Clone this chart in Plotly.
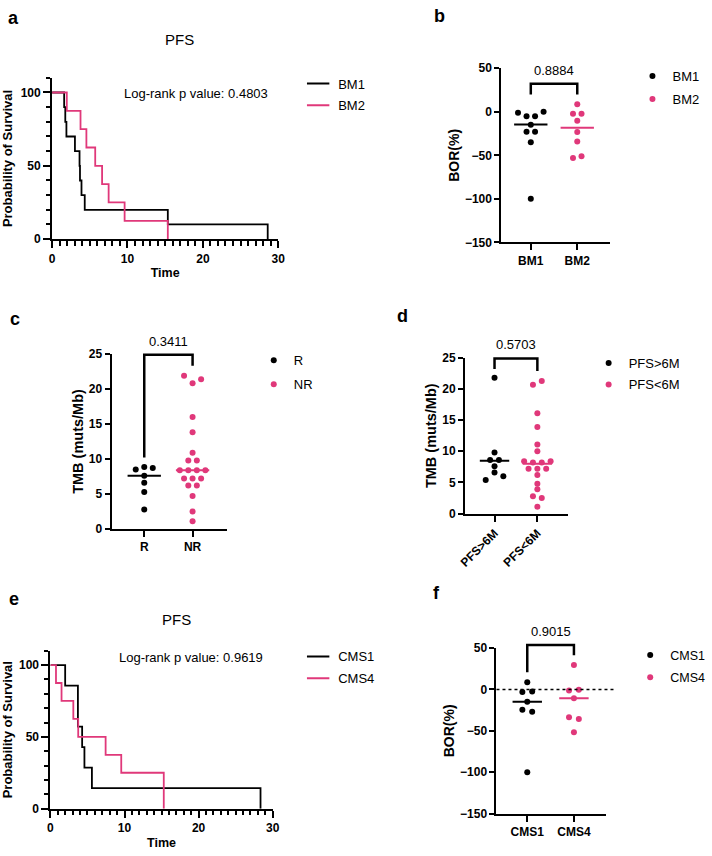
import plotly.graph_objects as go

W, H = 712, 856
FONT = "Liberation Sans, Arial, sans-serif"
PINK = "#E0387A"
BLACK = "#000000"

# ---------------- DATA ----------------
# Panel a: Kaplan-Meier PFS by BM group
bm1_time = [0, 1.6, 1.75, 1.9, 3.03, 3.64, 3.7, 3.9, 4.33, 15.35, 28.6]
bm1_surv = [100, 90, 80, 70, 60, 50, 40, 30, 20, 10, 0]
bm2_time = [0, 1.95, 3.77, 4.55, 5.72, 6.63, 7.5, 9.62, 15.35]
bm2_surv = [100, 87.5, 75, 62.5, 50, 37.5, 25, 12.5, 0]
a_pvalue = "Log-rank p value: 0.4803"

# Panel b: BOR by BM group
b_groups = ["BM1", "BM2"]
b_bm1 = [-1, -5, -5, 0, -15, -23, -23, -35, -100]
b_bm2 = [8.6, -2.3, -2.3, -10.2, -23.3, -34.2, -53, -51]
b_medians = [-14.7, -18.4]
b_bracket = [20, 32.3, 20]
b_pvalue = "0.8884"

# Panel c: TMB by response
c_groups = ["R", "NR"]
c_r = [8.5, 8.85, 8.7, 7.6, 6.6, 5.3, 2.8]
c_nr = [21.9, 20.8, 21.4, 16.0, 13.8, 10.9, 9.8, 9.8, 8.4, 8.4, 8.4, 8.4,
        7.2, 7.2, 7.2, 6.2, 6.2, 4.7, 2.5, 1.1]
c_medians = [7.6, 8.4]
c_bracket = [10.2, 24.9, 23.3]
c_pvalue = "0.3411"

# Panel d: TMB by PFS
d_groups = ["PFS>6M", "PFS<6M"]
d_long = [21.8, 9.8, 8.6, 8.6, 7.6, 5.4, 6.6, 6.0]
d_short = [20.7, 21.3, 16.1, 13.9, 11.1, 10.0, 8.4, 8.2, 8.2, 8.4, 7.2, 7.2, 7.2,
           6.2, 4.8, 3.9, 2.8, 2.5, 1.1]
d_medians = [8.5, 8.0]
d_bracket = [23.2, 24.9, 22.9]
d_pvalue = "0.5703"

# Panel e: Kaplan-Meier PFS by CMS
cms1_time = [0, 1.99, 3.71, 3.71, 4.28, 4.59, 5.6, 28.36]
cms1_surv = [100, 85.7, 71.4, 57.1, 42.9, 28.6, 14.3, 0]
cms4_time = [0, 0.75, 1.5, 3.09, 3.75, 7.45, 9.56, 15.3]
cms4_surv = [100, 87.5, 75, 62.5, 50, 37.5, 25, 0]
e_pvalue = "Log-rank p value: 0.9619"

# Panel f: BOR by CMS
f_groups = ["CMS1", "CMS4"]
f_cms1 = [8.7, -3.2, -2.4, -15, -24.6, -27, -100]
f_cms4 = [29.4, -1.2, -0.4, -10.7, -33.7, -35.7, -51.6]
f_medians = [-15, -10.7]
f_bracket = [20.6, 53.6, 41.3]
f_pvalue = "0.9015"

# KM axis ticks
km_x_major = [0, 10, 20, 30]
km_y_major = [0, 50, 100]


# ---------------- helpers ----------------
def px(x):
    return x / W


def py(y):
    return 1 - y / H


def swarm(vals, ppu, step_units, diam_px=5.0):
    """Group near-equal values into rows and spread each row symmetrically."""
    order = sorted(range(len(vals)), key=lambda i: -vals[i])
    clusters, cur = [], [order[0]]
    for a, b in zip(order[:-1], order[1:]):
        if (vals[a] - vals[b]) * ppu < diam_px:
            cur.append(b)
        else:
            clusters.append(cur)
            cur = [b]
    clusters.append(cur)
    offs = [0.0] * len(vals)
    for cl in clusters:
        cl = sorted(cl)
        n = len(cl)
        for k, i in enumerate(cl):
            offs[i] = (k - (n - 1) / 2) * step_units
    return offs


fig = go.Figure()

# panel geometry (pixel boxes) -> domains
panels = {
    "a": dict(x=[46, 276.7], y=[72, 236]),
    "b": dict(x=[504.3, 615], y=[62.3, 239.3]),
    "c": dict(x=[106.7, 224], y=[352.7, 530.7]),
    "d": dict(x=[467.3, 572.7], y=[356.7, 515]),
    "e": dict(x=[44.3, 271], y=[654.4, 815]),
    "f": dict(x=[499.3, 610.7], y=[651.7, 820]),
}
axid = {"a": "", "b": "2", "c": "3", "d": "4", "e": "5", "f": "6"}
overlay_id = {"b": "7", "c": "8", "d": "9", "f": "10"}

tickfont = dict(family=FONT, size=12, color=BLACK, weight="bold")
common_axis = dict(showline=True, linewidth=2, linecolor=BLACK, showgrid=False,
                   zeroline=False, ticks="outside", tickwidth=2, tickcolor=BLACK,
                   tickfont=tickfont)


def dom(p):
    g = panels[p]
    return [px(g["x"][0]), px(g["x"][1])], [py(g["y"][1]), py(g["y"][0])]


# ---------- KM panels ----------
def km_panel(p, t1, s1, t2, s2, names, legend, ptext, ptext_xy, title_xy):
    ax = axid[p]
    xd, yd = dom(p)
    for t, s, c in [(t1, s1, BLACK), (t2, s2, PINK)]:
        fig.add_trace(go.Scatter(x=t, y=s, mode="lines", line=dict(color=c, width=1.8, shape="hv"),
                                 xaxis="x" + ax, yaxis="y" + ax, showlegend=False,
                                 hoverinfo="skip"))
    for c, n in [(BLACK, names[0]), (PINK, names[1])]:
        fig.add_trace(go.Scatter(x=[None], y=[None], mode="markers", name=n, legend=legend,
                                 legendgroup=n,
                                 marker=dict(symbol="line-ew", size=16, color=c,
                                             line=dict(color=c, width=2)),
                                 xaxis="x" + ax, yaxis="y" + ax))
    fig.layout["xaxis" + ax] = dict(common_axis, domain=xd, range=[0, 30], tickvals=km_x_major,
                                    ticklen=7, anchor="y" + ax,
                                    minor=dict(tickvals=list(range(0, 31)), ticklen=4.5,
                                               tickwidth=1.5, ticks="outside", tickcolor=BLACK),
                                    title=dict(text="Time", font=dict(family=FONT, size=12.5,
                                                                      weight="bold", color=BLACK),
                                               standoff=4))
    fig.layout["yaxis" + ax] = dict(common_axis, domain=yd, range=[0, 110], tickvals=km_y_major,
                                    ticklen=7, anchor="x" + ax,
                                    minor=dict(tickvals=list(range(0, 111, 10)), ticklen=4.5,
                                               tickwidth=1.5, ticks="outside", tickcolor=BLACK),
                                    title=dict(text="Probability of Survival",
                                               font=dict(family=FONT, size=13, weight="bold",
                                                         color=BLACK), standoff=5))
    fig.add_annotation(x=px(ptext_xy[0]), y=py(ptext_xy[1]), xref="paper", yref="paper",
                       text=ptext, showarrow=False, xanchor="center", yanchor="middle",
                       font=dict(family=FONT, size=13, color=BLACK))
    fig.add_annotation(x=px(title_xy[0]), y=py(title_xy[1]), xref="paper", yref="paper",
                       text="PFS", showarrow=False, xanchor="center", yanchor="middle",
                       font=dict(family=FONT, size=15, color=BLACK))


km_panel("a", bm1_time, bm1_surv, bm2_time, bm2_surv, ["BM1", "BM2"], "legend",
         a_pvalue, (193, 88), (176, 33))
km_panel("e", cms1_time, cms1_surv, cms4_time, cms4_surv, ["CMS1", "CMS4"], "legend5",
         e_pvalue, (188, 661), (173, 623))


# ---------- dot panels ----------
def dot_panel(p, groups, v1, v2, medians, bracket, ptext, yrange, ytick, ytitle, title_size,
              legend, step_px, half_px, tickangle=0, zero_line=False):
    ax = axid[p]
    ov = overlay_id[p]
    xd, yd = dom(p)
    g = panels[p]
    ppu = (g["y"][1] - g["y"][0]) / (yrange[1] - yrange[0])
    width_px = g["x"][1] - g["x"][0]
    spacing_px = {"b": 47.4, "c": 49.3, "d": 43.7, "f": 47.6}[p]
    left_px = {"b": 30.0, "c": 33.3, "d": 30.0, "f": 31.4}[p]
    xr = [-left_px / spacing_px, (width_px - left_px) / spacing_px]
    step_u = step_px / spacing_px
    half_u = half_px / spacing_px
    for k, (vals, c, n) in enumerate([(v1, BLACK, groups[0]), (v2, PINK, groups[1])]):
        offs = swarm(vals, ppu, step_u)
        fig.add_trace(go.Scatter(x=[k + o for o in offs], y=vals, mode="markers", name=n,
                                 legend=legend, legendgroup=n,
                                 marker=dict(color=c, size=6), cliponaxis=False,
                                 xaxis="x" + ax, yaxis="y" + ax))
        fig.add_trace(go.Scatter(x=[k - half_u, k + half_u], y=[medians[k], medians[k]],
                                 mode="lines", line=dict(color=c, width=2), showlegend=False,
                                 xaxis="x" + ax, yaxis="y" + ax, hoverinfo="skip"))
    # bracket lives on an invisible overlay subplot with the same scale but extra headroom
    extra_px = 30
    fig.add_trace(go.Scatter(x=[0, 0, 1, 1], y=[bracket[0], bracket[1], bracket[1], bracket[2]],
                             mode="lines", line=dict(color=BLACK, width=2.5), showlegend=False,
                             xaxis="x" + ov, yaxis="y" + ov, hoverinfo="skip"))
    fig.add_annotation(x=0.5, y=bracket[1], xref="x" + ov, yref="y" + ov, text=ptext,
                       showarrow=False, yanchor="bottom", yshift=4,
                       font=dict(family=FONT, size=13, color=BLACK))
    fig.layout["xaxis" + ov] = dict(domain=xd, range=xr, visible=False, anchor="y" + ov,
                                    fixedrange=True)
    fig.layout["yaxis" + ov] = dict(domain=[yd[0], yd[1] + extra_px / H],
                                    range=[yrange[0], yrange[1] + extra_px / ppu],
                                    visible=False, anchor="x" + ov, fixedrange=True)
    if zero_line:
        fig.add_shape(type="line", xref="x" + ax + " domain", x0=0, x1=1.08, yref="y" + ax,
                      y0=0, y1=0, line=dict(color=BLACK, width=1.5, dash="dot"))
    fig.layout["xaxis" + ax] = dict(common_axis, domain=xd, range=xr, tickvals=[0, 1],
                                    ticktext=groups, ticklen=6, anchor="y" + ax,
                                    tickangle=tickangle)
    fig.layout["yaxis" + ax] = dict(common_axis, domain=yd, range=yrange, tickvals=ytick,
                                    ticklen=5, anchor="x" + ax,
                                    title=dict(text=ytitle, font=dict(family=FONT, size=title_size,
                                                                      weight="bold", color=BLACK),
                                               standoff=2))


dot_panel("b", b_groups, b_bm1, b_bm2, b_medians, b_bracket, b_pvalue, [-150, 50],
          [-150, -100, -50, 0, 50], "BOR(%)", 14, "legend2", 8.7, 17)
dot_panel("c", c_groups, c_r, c_nr, c_medians, c_bracket, c_pvalue, [0, 25],
          [0, 5, 10, 15, 20, 25], "TMB (muts/Mb)", 14.5, "legend3", 8.7, 17)
dot_panel("d", d_groups, d_long, d_short, d_medians, d_bracket, d_pvalue, [0, 25],
          [0, 5, 10, 15, 20, 25], "TMB (muts/Mb)", 14.5, "legend4", 9, 15, tickangle=-45)
dot_panel("f", f_groups, f_cms1, f_cms4, f_medians, f_bracket, f_pvalue, [-150, 50],
          [-150, -100, -50, 0, 50], "BOR(%)", 14, "legend6", 10, 15, zero_line=True)

# panel letters
for letter, (lx, ly) in {"a": (7, 11), "b": (441, 9), "c": (8, 317), "d": (403, 314),
                         "e": (7, 602), "f": (438, 596)}.items():
    fig.add_annotation(x=px(lx), y=py(ly), xref="paper", yref="paper", text=letter,
                       showarrow=False, xanchor="center", yanchor="middle",
                       font=dict(family=FONT, size=18, weight="bold", color=BLACK))

# legends: (symbol centre px x, first item centre px y, gap, font size)
leg_pos = {"legend": (317, 82.5, 2, 13), "legend2": (658, 75, 3, 13),
           "legend3": (271.7, 364, 4, 13), "legend4": (613.3, 366.7, 1.5, 13),
           "legend5": (317, 665, 2, 13), "legend6": (655.7, 664, 3, 12.5)}
for name, (lx, ly, gap, fs) in leg_pos.items():
    fig.layout[name] = dict(x=px(lx - 20), y=py(ly - 20), xanchor="left", yanchor="top",
                            bgcolor="rgba(0,0,0,0)", borderwidth=0, traceorder="grouped",
                            tracegroupgap=gap, font=dict(family=FONT, size=fs, color=BLACK),
                            itemclick=False)

fig.update_layout(width=W, height=H, margin=dict(l=0, r=0, t=0, b=0),
                  paper_bgcolor="white", plot_bgcolor="rgba(0,0,0,0)", showlegend=True,
                  font=dict(family=FONT, color=BLACK))

fig.write_html("out.html", config={"displayModeBar": False},
               post_script="document.body.style.margin='0px';"
                           "document.body.style.overflow='hidden';")
